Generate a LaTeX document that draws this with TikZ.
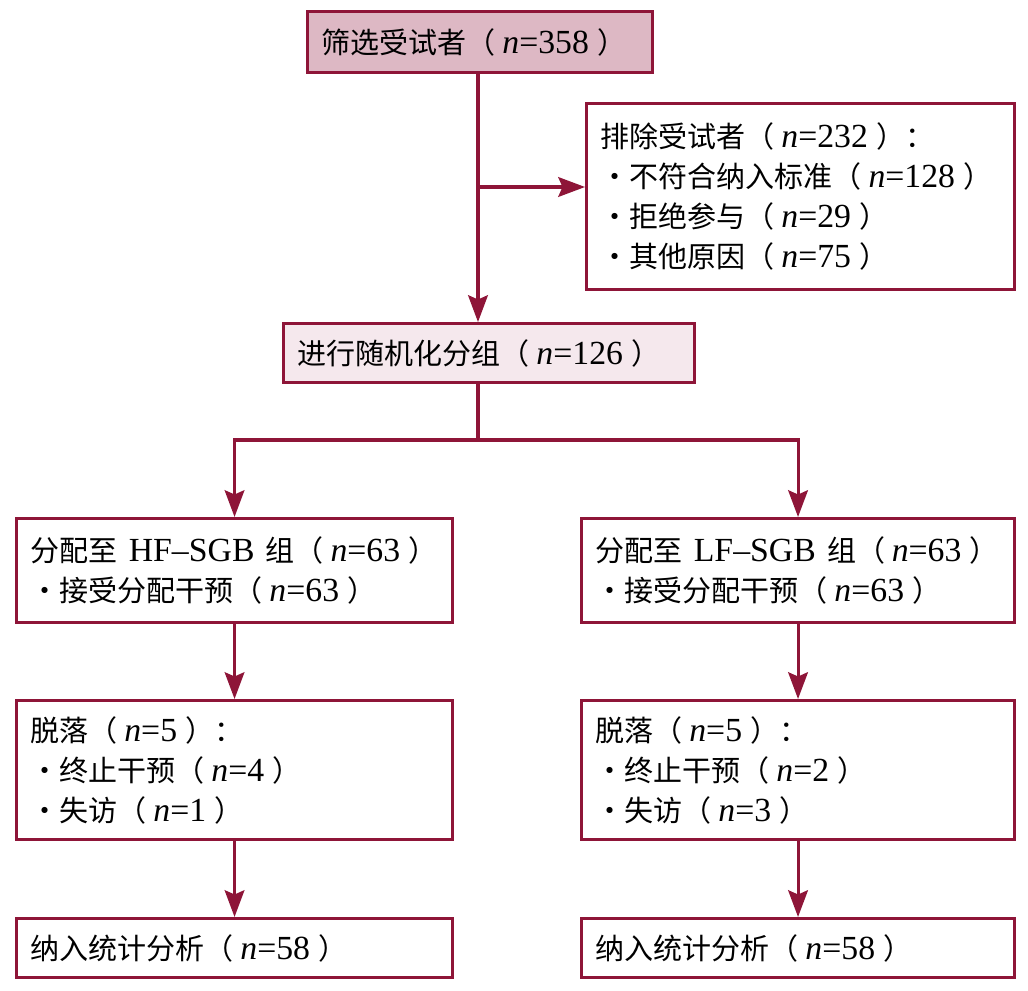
\documentclass[tikz,border=0pt]{standalone}
\usepackage{fontspec}
\setmainfont{Liberation Serif}
\newfontfamily\cjk{Noto Sans CJK SC}[Scale=0.86]
\usetikzlibrary{arrows.meta}
\definecolor{frame}{HTML}{8E1538}
\definecolor{fillA}{HTML}{DDB8C4}
\definecolor{fillB}{HTML}{F5E8ED}
\newcommand{\nn}[1]{\hspace{0.2em}\textit{n}=#1\hspace{0.25em}}
\newcommand{\lp}{{\cjk （}}
\newcommand{\rp}{{\cjk ）}}
\newcommand{\bt}{{\cjk ・}}
\tikzset{
  box/.style={draw=frame, line width=2.2pt, inner xsep=0pt, inner ysep=0pt, align=left,
    font=\fontsize{24}{28.5}\selectfont, anchor=north west},
  conn/.style={draw=frame, line width=2.2pt},
  arr/.style={conn, -{Stealth[length=19pt, width=14pt, inset=3pt]}}
}
\begin{document}
\begin{tikzpicture}[x=0.025cm,y=-0.025cm]
\useasboundingbox (0,0) rectangle (1028,991);
% boxes
\node[box, fill=fillA, minimum width=345*0.025cm, minimum height=61*0.025cm, text width=317*0.025cm] (screen) at (306,10) {{\cjk 筛选受试者}\lp\nn{358}\rp};
\node[box, minimum width=428*0.025cm, minimum height=186*0.025cm, text width=400*0.025cm] (excl) at (585,102)
  {{\cjk 排除受试者}\lp\nn{232}\rp{\cjk ：}\\
   \bt{\cjk 不符合纳入标准}{\cjk （}\nn{128}\rp\\
   \bt{\cjk 拒绝参与}\lp\nn{29}\rp\\
   \bt{\cjk 其他原因}\lp\nn{75}\rp};
\node[box, fill=fillB, minimum width=411*0.025cm, minimum height=59*0.025cm, text width=383*0.025cm] (rand) at (282,322) {{\cjk 进行随机化分组}\lp\nn{126}\rp};
\node[box, minimum width=436*0.025cm, minimum height=104*0.025cm, text width=408*0.025cm] (hf) at (15,517)
  {{\cjk 分配至} HF--SGB {\cjk 组}\lp\nn{63}\rp\\
   \bt{\cjk 接受分配干预}\lp\nn{63}\rp};
\node[box, minimum width=433*0.025cm, minimum height=104*0.025cm, text width=405*0.025cm] (lf) at (580,517)
  {{\cjk 分配至} LF--SGB {\cjk 组}\lp\nn{63}\rp\\
   \bt{\cjk 接受分配干预}\lp\nn{63}\rp};
\node[box, minimum width=436*0.025cm, minimum height=139*0.025cm, text width=408*0.025cm] (dl) at (15,699)
  {{\cjk 脱落}\lp\nn{5}\rp{\cjk ：}\\
   \bt{\cjk 终止干预}\lp\nn{4}\rp\\
   \bt{\cjk 失访}\lp\nn{1}\rp};
\node[box, minimum width=433*0.025cm, minimum height=139*0.025cm, text width=405*0.025cm] (dr) at (580,699)
  {{\cjk 脱落}\lp\nn{5}\rp{\cjk ：}\\
   \bt{\cjk 终止干预}\lp\nn{2}\rp\\
   \bt{\cjk 失访}\lp\nn{3}\rp};
\node[box, minimum width=436*0.025cm, minimum height=59*0.025cm, text width=408*0.025cm] (fl) at (15,917)
  {{\cjk 纳入统计分析}\lp\nn{58}\rp};
\node[box, minimum width=433*0.025cm, minimum height=59*0.025cm, text width=405*0.025cm] (fr) at (580,917)
  {{\cjk 纳入统计分析}\lp\nn{58}\rp};
% connectors
\coordinate (j1) at (478,187);
\coordinate (j2) at (478,440);
\draw[arr] (screen.south -| j1) -- (rand.north -| j1);
\draw[arr] (j1) -- (excl.west |- j1);
\draw[conn] (rand.south -| j2) -- (j2);
\draw[arr] (j2) -| (hf.north);
\draw[arr] (j2) -| (lf.north);
\draw[arr] (hf.south) -- (dl.north);
\draw[arr] (lf.south) -- (dr.north);
\draw[arr] (dl.south) -- (fl.north);
\draw[arr] (dr.south) -- (fr.north);
\end{tikzpicture}
\end{document}
